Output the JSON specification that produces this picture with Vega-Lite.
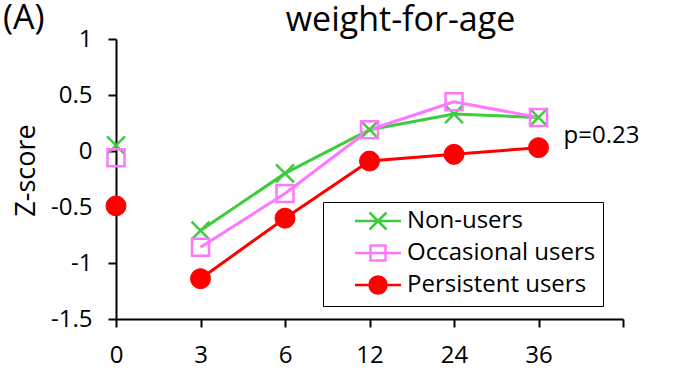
{
  "$schema": "https://vega.github.io/schema/vega-lite/v6.json",
  "width": 507,
  "height": 280,
  "autosize": {"type": "none"},
  "padding": {"left": 116, "top": 39, "right": 56, "bottom": 57},
  "background": "white",
  "config": {"font": "Open Sans", "view": {"stroke": null}},
  "title": {"text": "weight-for-age", "anchor": "middle", "frame": "group", "dx": 31, "fontSize": 34, "fontWeight": "normal", "color": "black", "baseline": "alphabetic", "offset": -63},
  "datasets": {
    "scores": [
      {"group": "Non-users", "month": "0", "z": 0.05},
      {"group": "Non-users", "month": "3", "z": -0.71},
      {"group": "Non-users", "month": "6", "z": -0.2},
      {"group": "Non-users", "month": "12", "z": 0.19},
      {"group": "Non-users", "month": "24", "z": 0.33},
      {"group": "Non-users", "month": "36", "z": 0.3},
      {"group": "Occasional users", "month": "0", "z": -0.06},
      {"group": "Occasional users", "month": "3", "z": -0.86},
      {"group": "Occasional users", "month": "6", "z": -0.38},
      {"group": "Occasional users", "month": "12", "z": 0.19},
      {"group": "Occasional users", "month": "24", "z": 0.44},
      {"group": "Occasional users", "month": "36", "z": 0.3},
      {"group": "Persistent users", "month": "0", "z": -0.49},
      {"group": "Persistent users", "month": "3", "z": -1.14},
      {"group": "Persistent users", "month": "6", "z": -0.6},
      {"group": "Persistent users", "month": "12", "z": -0.09},
      {"group": "Persistent users", "month": "24", "z": -0.03},
      {"group": "Persistent users", "month": "36", "z": 0.03}
    ],
    "notes": [
      {"label": "p=0.23", "month": "36", "z": 0.13},
      {"label": "(A)", "month": "0", "z": 1}
    ]
  },
  "data": {"name": "scores"},
  "layer": [
    {
      "transform": [{"filter": "datum.month != '0'"}],
      "mark": {"type": "line", "strokeWidth": 3},
      "encoding": {
        "x": {"field": "month", "type": "ordinal",
          "scale": {"type": "point", "domain": ["0", "3", "6", "12", "24", "36", ""], "padding": 0},
          "axis": {"title": null, "labelAngle": 0, "labelFontSize": 24, "labelColor": "black", "domainColor": "black", "domainWidth": 2, "tickColor": "black", "tickWidth": 2, "tickSize": 8, "labelPadding": 16, "grid": false}},
        "y": {"field": "z", "type": "quantitative",
          "scale": {"domain": [-1.5, 1], "nice": false, "zero": false},
          "axis": {"title": "Z-score", "titleFontSize": 27, "titleFontWeight": "normal", "titleColor": "black", "titlePadding": 10, "titleY": 131,
            "values": [-1.5, -1, -0.5, 0, 0.5, 1], "labelExpr": "toString(datum.value)",
            "labelFontSize": 24, "labelColor": "black", "domainColor": "black", "domainWidth": 2, "tickColor": "black", "tickWidth": 2, "tickSize": 8, "labelPadding": 16, "grid": false}},
        "color": {"field": "group", "type": "nominal",
          "scale": {"domain": ["Non-users", "Occasional users", "Persistent users"], "range": ["#3ccc3c", "#ff77ff", "#ff0000"]},
          "legend": {"title": null, "orient": "none", "legendX": 207, "legendY": 163,
            "labelFontSize": 24, "labelColor": "black", "labelLimit": 400, "symbolSize": 400, "symbolOffset": 36, "labelOffset": 17,
            "padding": 7, "rowPadding": 5, "strokeColor": "black", "fillColor": "white", "symbolStrokeWidth": 2.5}}
      }
    },
    {
      "transform": [{"filter": "false"}],
      "mark": {"type": "point", "strokeWidth": 2.5, "opacity": 1, "filled": false},
      "encoding": {
        "x": {"field": "month", "type": "ordinal"},
        "y": {"field": "z", "type": "quantitative"},
        "color": {"field": "group", "type": "nominal"},
        "shape": {"field": "group", "type": "nominal", "legend": null,
          "scale": {"domain": ["Non-users", "Occasional users", "Persistent users"], "range": [
            "M-2.3,0H2.3M-0.85,-0.85L0.85,0.85M-0.85,0.85L0.85,-0.85",
            "M-2.3,0H2.3M-0.75,-0.75H0.75V0.75H-0.75Z",
            "M-2.3,0H2.3M-0.85,0A0.85,0.85,0,1,0,0.85,0A0.85,0.85,0,1,0,-0.85,0Z"]}},
        "fill": {"field": "group", "type": "nominal", "legend": null,
          "scale": {"domain": ["Non-users", "Occasional users", "Persistent users"], "range": ["transparent", "transparent", "#ff0000"]}}
      }
    },
    {
      "transform": [{"filter": "datum.group == 'Non-users'"}],
      "mark": {"type": "point", "shape": "M-1,-1L1,1M-1,1L1,-1", "size": 324, "strokeWidth": 2.5, "opacity": 1, "filled": false, "stroke": "#3ccc3c"},
      "encoding": {"x": {"field": "month", "type": "ordinal"}, "y": {"field": "z", "type": "quantitative"}}
    },
    {
      "transform": [{"filter": "datum.group == 'Occasional users'"}],
      "mark": {"type": "point", "shape": "square", "size": 289, "strokeWidth": 2.5, "opacity": 1, "filled": false, "stroke": "#ff77ff"},
      "encoding": {"x": {"field": "month", "type": "ordinal"}, "y": {"field": "z", "type": "quantitative"}}
    },
    {
      "transform": [{"filter": "datum.group == 'Persistent users'"}],
      "mark": {"type": "point", "shape": "circle", "size": 400, "strokeWidth": 1, "opacity": 1, "filled": true, "fill": "#ff0000", "stroke": "#ff0000"},
      "encoding": {"x": {"field": "month", "type": "ordinal"}, "y": {"field": "z", "type": "quantitative"}}
    },
    {
      "data": {"name": "notes"},
      "transform": [{"filter": "datum.label == 'p=0.23'"}],
      "mark": {"type": "text", "align": "left", "baseline": "middle", "fontSize": 24, "fill": "black", "dx": 25},
      "encoding": {"x": {"field": "month", "type": "ordinal"}, "y": {"field": "z", "type": "quantitative"}, "text": {"field": "label", "type": "nominal"}}
    },
    {
      "data": {"name": "notes"},
      "transform": [{"filter": "datum.label == '(A)'"}],
      "mark": {"type": "text", "align": "left", "baseline": "alphabetic", "fontSize": 34, "fill": "black", "dx": -113, "dy": -10},
      "encoding": {"x": {"field": "month", "type": "ordinal"}, "y": {"field": "z", "type": "quantitative"}, "text": {"field": "label", "type": "nominal"}}
    }
  ]
}
